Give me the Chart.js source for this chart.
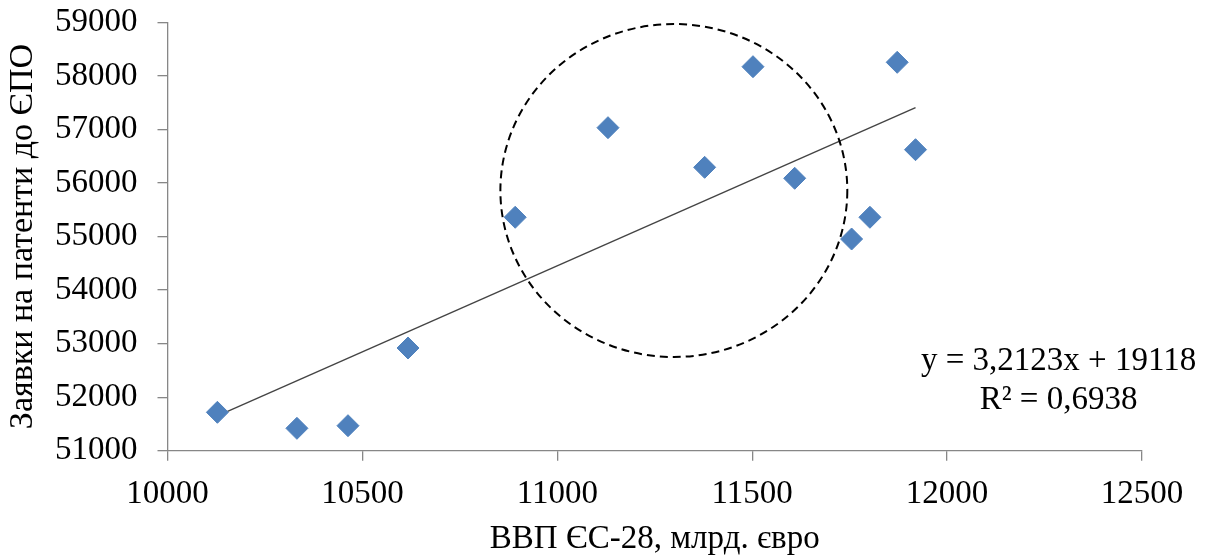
<!DOCTYPE html>
<html>
<head>
<meta charset="utf-8">
<script src="https://cdn.jsdelivr.net/npm/chart.js@4"></script>
<style>
html,body{margin:0;padding:0;background:#fff;}
#wrap{width:1216px;height:556px;position:relative;}
</style>
</head>
<body>
<div id="wrap"><canvas id="c" width="1216" height="556"></canvas></div>
<script>
const gdp = [10128, 10332, 10463, 10617, 10892, 11130, 11378, 11502, 11609, 11755, 11802, 11872, 11919];
const applications = [51717, 51418, 51467, 52918, 55359, 57032, 56292, 58171, 56087, 54953, 55359, 58253, 56621];
const trendX = [10128, 11919];
const trendY = [51652, 57405];
const xTitle = 'ВВП ЄС-28, млрд. євро';
const yTitle = 'Заявки на патенти до ЄПО';
const eqLines = ['y = 3,2123x + 19118', 'R² = 0,6938'];

const FONT = "'Liberation Serif', 'Times New Roman', serif";
const AXIS = '#878787';

const overlay = {
  id: 'overlay',
  afterDatasetsDraw(chart) {
    const {ctx, scales: {x, y}} = chart;
    const cx = x.getPixelForValue(11299), cy = y.getPixelForValue(55859);
    const rx = x.getPixelForValue(11299 + 445) - cx;
    const ry = cy - y.getPixelForValue(55859 + 3109);
    ctx.save();
    ctx.beginPath();
    ctx.setLineDash([8, 5]);
    ctx.lineWidth = 2;
    ctx.strokeStyle = '#000';
    ctx.ellipse(cx, cy, rx, ry, 0, 0, Math.PI * 2);
    ctx.stroke();
    ctx.setLineDash([]);
    ctx.fillStyle = '#000';
    ctx.font = '33px ' + FONT;
    ctx.textAlign = 'center';
    ctx.textBaseline = 'middle';
    const tx = x.getPixelForValue(12286);
    ctx.fillText(eqLines[0], tx, y.getPixelForValue(52675));
    ctx.fillText(eqLines[1], tx, y.getPixelForValue(51947));
    ctx.restore();
  }
};

new Chart(document.getElementById('c'), {
  type: 'scatter',
  data: {
    datasets: [
      {
        label: 'trend',
        type: 'line',
        data: trendX.map((v, i) => ({x: v, y: trendY[i]})),
        borderColor: '#444444',
        borderWidth: 1.4,
        pointRadius: 0,
        fill: false,
        order: 2
      },
      {
        label: 'points',
        data: gdp.map((v, i) => ({x: v, y: applications[i]})),
        pointStyle: 'rectRot',
        pointRadius: 11,
        pointBackgroundColor: '#4F81BD',
        pointBorderColor: '#4F81BD',
        pointBorderWidth: 1,
        order: 1
      }
    ]
  },
  options: {
    responsive: false,
    animation: false,
    devicePixelRatio: 1,
    layout: {padding: {top: 22.3, right: 74, left: 0, bottom: 0}},
    plugins: {legend: {display: false}, tooltip: {enabled: false}},
    scales: {
      x: {
        type: 'linear',
        min: 10000, max: 12500,
        ticks: {stepSize: 500, color: '#000', font: {family: FONT, size: 33}, padding: 14, maxRotation: 0,
          callback: v => String(v)},
        grid: {display: true, drawOnChartArea: false, drawTicks: true, tickLength: 10, color: AXIS, lineWidth: 1.3},
        border: {display: true, color: AXIS, width: 1.3},
        title: {display: true, text: xTitle, color: '#000', font: {family: FONT, size: 33, lineHeight: 1}, padding: {top: 0, bottom: 0}},
        afterFit: s => { s.height = 105.3; s.paddingLeft = 0; s.paddingRight = 0; }
      },
      y: {
        type: 'linear',
        min: 51000, max: 59000,
        ticks: {stepSize: 1000, color: '#000', font: {family: FONT, size: 33}, padding: 20,
          callback: v => String(v)},
        grid: {display: true, drawOnChartArea: false, drawTicks: true, tickLength: 10, color: AXIS, lineWidth: 1.3},
        border: {display: true, color: AXIS, width: 1.3},
        title: {display: true, text: yTitle, color: '#000', font: {family: FONT, size: 34, lineHeight: 1.2}, padding: {top: 3, bottom: 0}},
        afterFit: s => { s.width = 167.5; s.paddingTop = 0; s.paddingBottom = 0; }
      }
    }
  },
  plugins: [overlay]
});
</script>
</body>
</html>
